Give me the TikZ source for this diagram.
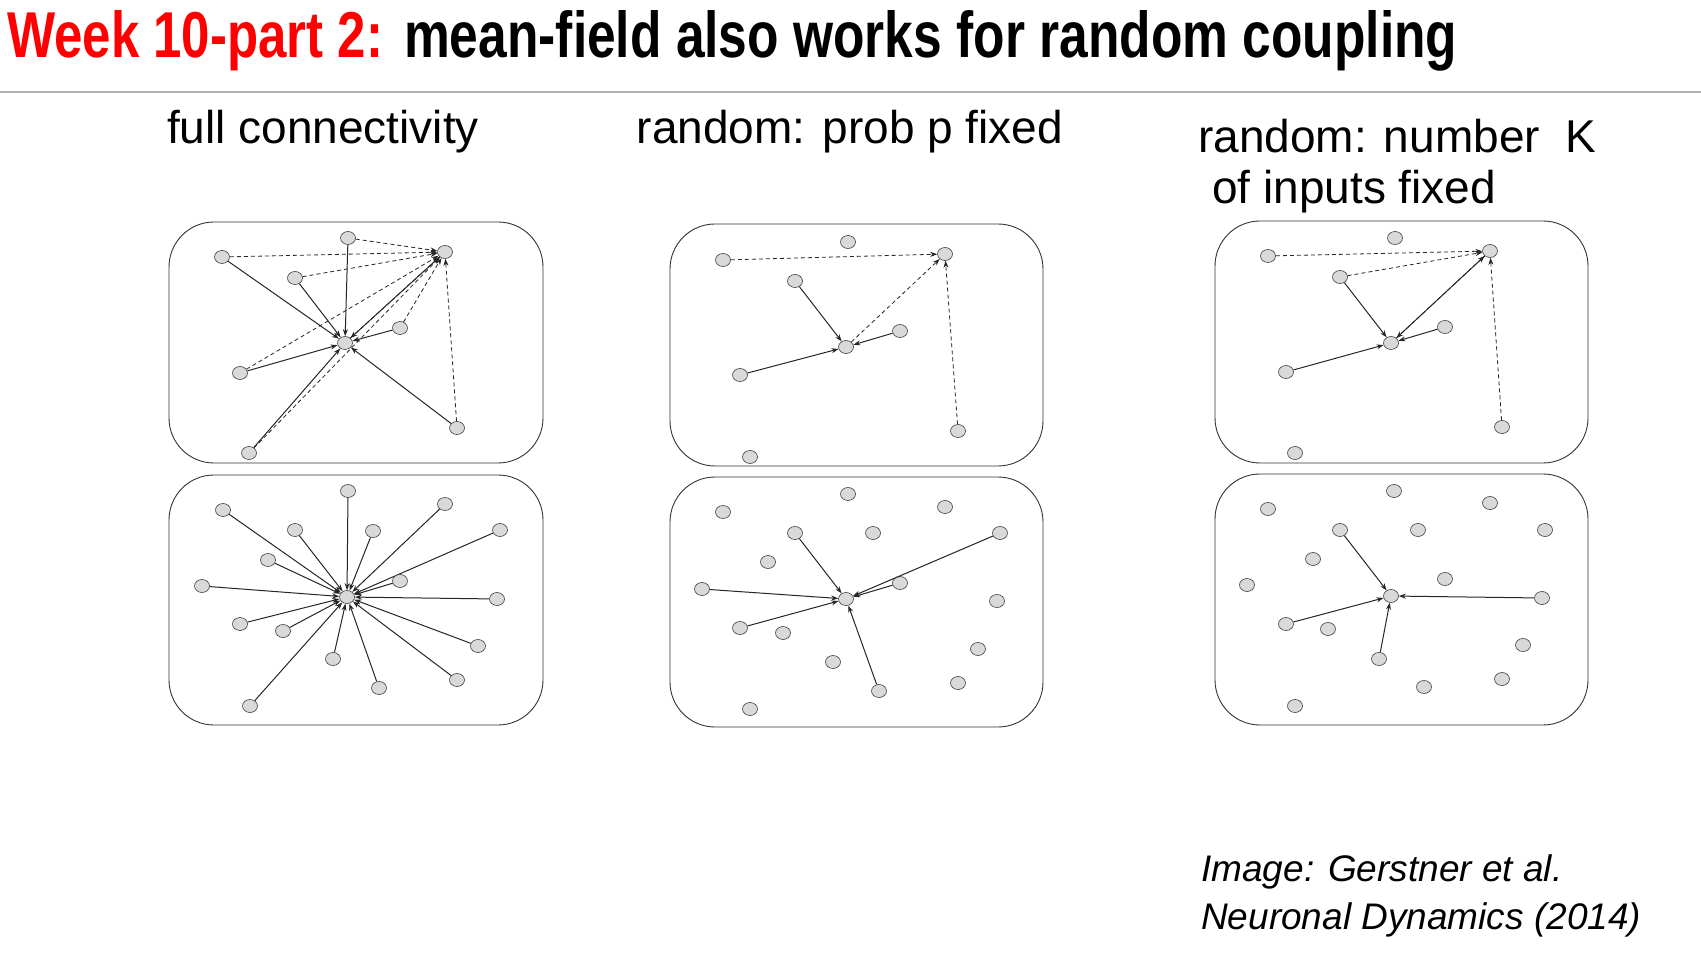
\documentclass[tikz,border=0pt]{standalone}
\usepackage{fontspec}
\setmainfont{Liberation Sans}
\usetikzlibrary{arrows.meta,shapes.geometric}
\begin{document}
\begin{tikzpicture}[x=1pt,y=-1pt,
  nd/.style={ellipse,draw=black!75,fill=black!15,line width=0.6pt,minimum width=15pt,minimum height=13pt,inner sep=0pt},
  panel/.style={draw=black!80,line width=0.9pt,rounded corners=45pt},
  sol/.style={draw=black!85,line width=1pt,-{Stealth[length=7pt,width=5pt]}},
  dsh/.style={draw=black!85,line width=0.8pt,dash pattern=on 4pt off 3pt,-{Stealth[length=7pt,width=5pt]}},
  lbl/.style={font=\fontsize{46}{50}\selectfont,inner sep=0pt},
  captxt/.style={font=\fontsize{37}{40}\selectfont\itshape,inner sep=0pt,anchor=west}]
\path[use as bounding box,fill=white] (0,0) rectangle (1701,957);
% title
\node[inner sep=0pt,anchor=base west,text=red] (t1) at (7,58) {\resizebox{376pt}{47pt}{\fontsize{63}{63}\selectfont\bfseries Week 10-part 2:}};
\node[inner sep=0pt,anchor=base west] (t2) at (404,58) {\resizebox{1053pt}{47pt}{\fontsize{63}{63}\selectfont\bfseries mean-field also works for random coupling}};
\draw[black!30,line width=2pt] (0,92) -- (1701,92);
% column labels
\node[lbl] (l1) at (323,132) {full connectivity};
\node[lbl] (l2) at (850,132) {random: prob p fixed};
\node[lbl,anchor=west] (l3) at (1198,136) {random: number\ \ K};
\node[lbl,anchor=west] (l4) at (1212,192) {of inputs fixed};
\node[captxt] (c1) at (1201,872) {Image: Gerstner et al.};
\node[captxt] (c2) at (1201,920) {Neuronal Dynamics (2014)};
% panels
\draw[panel] (169,222) rectangle (543,463);
\draw[panel] (169,475) rectangle (543,725);
\draw[panel] (670,224) rectangle (1043,466);
\draw[panel] (670,477) rectangle (1043,727);
\draw[panel] (1215,221) rectangle (1588,463);
\draw[panel] (1215,474) rectangle (1588,725);
% ---- panel 1 top
\foreach \n/\x/\y in {aA/222/257,aB/348/238,aC/445/252,aD/295/278,aE/400/328,aM/345/343,aF/240/373,aG/457/428,aH/249/453}
  \node[nd] (\n) at (\x,\y) {};
\foreach \s in {aA,aB,aD,aE,aF,aG,aH,aC} \draw[sol] (\s) -- (aM);
\foreach \s in {aA,aB,aD,aE,aF,aG,aH,aM} \draw[dsh] (\s) -- (aC);
% ---- panel 1 bottom
\node[nd] (bM) at (347,597) {};
\foreach \n/\x/\y in {b1/348/491,b2/223/510,b3/445/504,b4/295/530,b5/373/531,b6/500/530,b7/268/560,b8/400/581,b9/202/586,b10/497/599,b11/240/624,b12/283/631,b13/333/659,b14/478/646,b15/379/688,b16/457/680,b17/250/706}
  {\node[nd] (\n) at (\x,\y) {}; \draw[sol] (\n) -- (bM);}
% ---- panel 2 top
\foreach \n/\x/\y in {cA/723/260,cB/848/242,cC/945/254,cD/795/281,cE/900/331,cM/846/347,cF/740/375,cG/958/431,cH/750/457}
  \node[nd] (\n) at (\x,\y) {};
\foreach \s in {cD,cF,cE} \draw[sol] (\s) -- (cM);
\foreach \s in {cA,cM,cG} \draw[dsh] (\s) -- (cC);
% ---- panel 2 bottom
\foreach \n/\x/\y in {dM/846/599,d1/848/494,d2/723/512,d3/945/507,d4/795/533,d5/873/533,d6/1000/533,d7/768/562,d8/900/583,d9/702/589,d10/997/601,d11/740/628,d12/783/633,d13/833/662,d14/978/649,d15/879/691,d16/958/683,d17/750/709}
  \node[nd] (\n) at (\x,\y) {};
\foreach \s in {d4,d6,d8,d9,d11,d15} \draw[sol] (\s) -- (dM);
% ---- panel 3 top
\foreach \n/\x/\y in {eA/1268/256,eB/1395/238,eC/1490/251,eD/1340/277,eE/1445/327,eM/1391/343,eF/1286/372,eG/1502/427,eH/1295/453}
  \node[nd] (\n) at (\x,\y) {};
\foreach \s in {eD,eF,eE,eC} \draw[sol] (\s) -- (eM);
\foreach \s in {eA,eD,eM,eG} \draw[dsh] (\s) -- (eC);
% ---- panel 3 bottom
\foreach \n/\x/\y in {fM/1391/596,f1/1394/491,f2/1268/509,f3/1490/503,f4/1340/530,f5/1418/530,f6/1545/530,f7/1313/559,f8/1445/579,f9/1247/585,f10/1542/598,f11/1286/624,f12/1328/629,f13/1379/659,f14/1523/645,f15/1424/687,f16/1502/679,f17/1295/706}
  \node[nd] (\n) at (\x,\y) {};
\foreach \s in {f4,f10,f11,f13} \draw[sol] (\s) -- (fM);
\end{tikzpicture}
\end{document}
